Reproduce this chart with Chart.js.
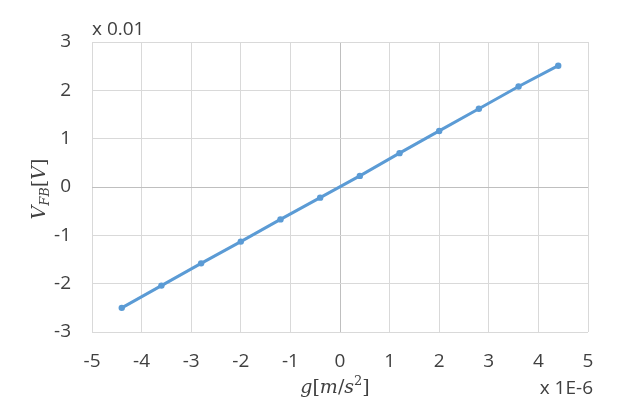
<!DOCTYPE html>
<html>
<head>
<meta charset="utf-8">
<script src="https://cdn.jsdelivr.net/npm/chart.js@4.4.0/dist/chart.umd.min.js"></script>
<style>
  html, body { margin: 0; padding: 0; background: #fff; }
  #wrap { width: 618px; height: 416px; position: relative; }
</style>
</head>
<body>
<div id="wrap"><canvas id="chart" width="618" height="416"></canvas></div>
<script>
// g in units of 1E-6 m/s^2, V_FB in units of 0.01 V
const gValues = [-4.4, -3.6, -2.8, -2.0, -1.2, -0.4, 0.4, 1.2, 2.0, 2.8, 3.6, 4.4];
const vfbValues = [-2.50, -2.04, -1.58, -1.13, -0.67, -0.22, 0.23, 0.70, 1.16, 1.62, 2.08, 2.51];
const xTicks = [-5, -4, -3, -2, -1, 0, 1, 2, 3, 4, 5];
const yTicks = [-3, -2, -1, 0, 1, 2, 3];

const txtColor = "#404040";
const lineColor = "#5b9bd5";
const tickFont = { family: "Open Sans", size: 19 };

const points = gValues.map((g, i) => ({ x: g, y: vfbValues[i] }));

// draws the scale multipliers and the math-style axis titles
const labelsPlugin = {
  id: "labels",
  afterDraw(chart) {
    const ctx = chart.ctx;
    ctx.save();
    ctx.fillStyle = txtColor;
    ctx.textBaseline = "alphabetic";
    ctx.font = "19px 'Open Sans'";
    ctx.textAlign = "left";
    ctx.fillText("x 0.01", chart.chartArea.left, 35);
    ctx.textAlign = "right";
    ctx.fillText("x 1E-6", chart.chartArea.right + 5, 394);

    // x title: g[m/s²]
    const serif = "DejaVu Serif";
    let parts = [
      { t: "g", f: "italic 19px " + serif, dy: 0 },
      { t: "[", f: "19px " + serif, dy: 0 },
      { t: "m", f: "italic 19px " + serif, dy: 0 },
      { t: "/", f: "19px " + serif, dy: 0 },
      { t: "s", f: "italic 19px " + serif, dy: 0 },
      { t: "2", f: "13px " + serif, dy: -8 },
      { t: "]", f: "19px " + serif, dy: 0 }
    ];
    drawParts(ctx, parts, 335, 393);

    // y title: V_FB[V], rotated
    ctx.save();
    ctx.translate(45, 189);
    ctx.rotate(-Math.PI / 2);
    parts = [
      { t: "V", f: "italic 19px " + serif, dy: 0 },
      { t: "FB", f: "italic 13px " + serif, dy: 4 },
      { t: "[", f: "19px " + serif, dy: 0 },
      { t: "V", f: "italic 19px " + serif, dy: 0 },
      { t: "]", f: "19px " + serif, dy: 0 }
    ];
    drawParts(ctx, parts, 0, 0);
    ctx.restore();
    ctx.restore();
  }
};

function drawParts(ctx, parts, cx, y) {
  let total = 0;
  parts.forEach(p => { ctx.font = p.f; total += ctx.measureText(p.t).width; });
  let x = cx - total / 2;
  ctx.textAlign = "left";
  parts.forEach(p => {
    ctx.font = p.f;
    ctx.fillText(p.t, x, y + p.dy);
    x += ctx.measureText(p.t).width;
  });
}

new Chart(document.getElementById("chart"), {
  type: "scatter",
  data: {
    datasets: [{
      data: points,
      showLine: true,
      borderColor: lineColor,
      backgroundColor: lineColor,
      borderWidth: 3,
      pointRadius: 3.2,
      pointHoverRadius: 3.2,
      pointBorderWidth: 0
    }]
  },
  options: {
    responsive: false,
    animation: false,
    devicePixelRatio: 1,
    layout: { padding: { top: 42, right: 30, left: 0, bottom: 0 } },
    plugins: { legend: { display: false }, tooltip: { enabled: false } },
    scales: {
      x: {
        type: "linear",
        min: -5, max: 5,
        afterBuildTicks: s => { s.ticks = xTicks.map(v => ({ value: v })); },
        afterFit: s => { s.height = 416 - 332; },
        ticks: { color: txtColor, font: tickFont, padding: 18, maxRotation: 0 },
        grid: {
          color: c => c.tick && c.tick.value === 0 ? "#bfbfbf" : "#d9d9d9",
          lineWidth: 1,
          drawTicks: false
        },
        border: { display: false }
      },
      y: {
        type: "linear",
        min: -3, max: 3,
        afterBuildTicks: s => { s.ticks = yTicks.map(v => ({ value: v })); },
        afterFit: s => { s.width = 92; },
        ticks: { color: txtColor, font: tickFont, padding: 21 },
        grid: {
          color: c => c.tick && c.tick.value === 0 ? "#bfbfbf" : "#d9d9d9",
          lineWidth: 1,
          drawTicks: false
        },
        border: { display: false }
      }
    }
  },
  plugins: [labelsPlugin]
});
</script>
</body>
</html>
